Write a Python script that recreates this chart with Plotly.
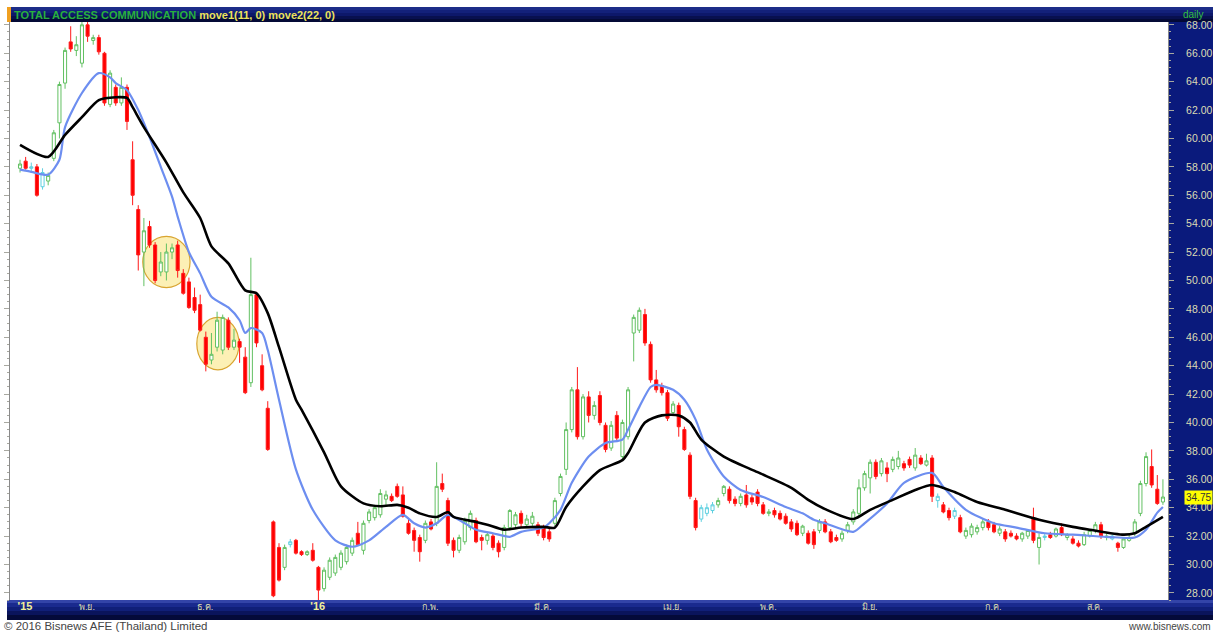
import pandas as pd
import plotly.graph_objects as go

# ---------------- data ----------------
open_ = [
    57.9, 58.4, 57.9, 58.0, 56.6, 57.0, 58.6, 61.1, 63.9, 66.8,
    66.2, 65.3, 68.0, 66.9, 67.1, 66.0, 62.4, 63.6, 62.5, 63.6,
    58.5, 55.0, 52.0, 53.8, 52.5, 50.6, 50.6, 52.0, 52.5, 50.5,
    49.9, 48.8, 48.3, 46.0, 44.4, 45.3, 45.1, 47.2, 45.3, 45.7,
    44.6, 42.8, 49.0, 44.0, 41.0, 33.0, 31.2, 29.8, 31.4, 31.7,
    30.9, 30.7, 31.0, 29.8, 28.3, 29.1, 29.4, 29.8, 30.2, 30.8,
    32.2, 31.0, 33.1, 33.3, 33.5, 34.6, 34.8, 35.5, 34.9, 32.9,
    32.4, 31.9, 31.7, 33.0, 32.9, 35.7, 34.5, 31.7, 31.0, 31.6,
    32.6, 33.1, 31.9, 31.7, 32.0, 31.5, 31.2, 32.6, 32.8, 33.6,
    32.8, 32.9, 32.8, 32.6, 32.3, 32.9, 35.0, 36.7, 39.5, 42.3,
    39.0, 41.8, 40.5, 41.9, 39.8, 38.2, 40.5, 37.6, 39.0, 46.3,
    46.5, 47.6, 45.5, 43.0, 42.6, 42.1, 40.7, 41.2, 39.5, 37.7,
    34.5, 33.2, 33.6, 33.8, 34.2, 35.0, 35.3, 34.6, 34.3, 34.9,
    34.7, 35.1, 34.2, 33.6, 33.8, 33.6, 33.4, 33.0, 32.9, 32.2,
    32.2, 32.3, 32.4, 33.0, 32.3, 31.9, 31.8, 32.4, 33.0, 33.6,
    35.4, 36.1, 37.2, 36.4, 36.8, 36.7, 36.9, 37.1, 37.4, 36.8,
    37.5, 37.0, 37.5, 34.5, 34.2, 33.8, 33.4, 33.3, 32.0, 32.1,
    32.3, 32.6, 33.0, 32.8, 32.2, 32.3, 32.2, 32.0, 31.8, 32.0,
    33.3, 31.2, 31.9, 32.1, 32.0, 32.6, 31.9, 31.8, 31.5, 31.4,
    32.0, 32.4, 32.8, 31.9, 32.0, 31.5, 31.2, 31.7, 32.2, 33.6,
    35.7, 36.9, 35.3, 34.4,
]
high = [
    58.5, 58.7, 58.3, 58.2, 57.9, 57.6, 60.6, 64.0, 66.4, 67.9,
    67.2, 68.2, 68.2, 67.3, 67.3, 66.1, 64.8, 63.8, 64.3, 63.8,
    59.8, 55.3, 54.4, 54.2, 52.7, 52.0, 52.6, 52.6, 52.8, 50.8,
    50.2, 49.5, 49.0, 46.4, 46.3, 47.8, 47.6, 47.4, 46.6, 45.9,
    45.3, 51.6, 49.2, 44.8, 41.5, 33.1, 31.5, 31.4, 31.8, 31.8,
    31.0, 31.0, 31.5, 29.9, 29.8, 30.5, 30.7, 31.0, 31.4, 31.9,
    33.0, 33.1, 33.9, 34.2, 35.3, 35.2, 35.0, 35.7, 35.5, 33.2,
    32.6, 32.1, 33.1, 33.2, 37.2, 36.4, 34.7, 31.9, 32.1, 33.3,
    33.8, 33.3, 32.1, 32.3, 32.2, 31.7, 32.8, 33.9, 33.7, 33.8,
    33.5, 33.7, 33.0, 32.8, 32.5, 34.7, 36.4, 40.0, 42.5, 43.9,
    42.0, 42.2, 41.5, 42.2, 40.0, 40.1, 40.8, 40.2, 42.5, 47.6,
    48.1, 48.0, 45.7, 43.7, 42.8, 42.3, 41.5, 41.4, 39.7, 37.9,
    34.7, 34.2, 34.3, 34.4, 34.7, 35.6, 35.5, 34.8, 35.0, 35.6,
    34.9, 35.3, 34.4, 33.9, 34.0, 33.8, 33.6, 33.2, 33.1, 32.8,
    32.4, 32.5, 33.2, 33.2, 32.5, 32.1, 32.4, 33.0, 33.9, 36.0,
    36.6, 37.4, 37.4, 37.5, 37.2, 37.6, 38.0, 37.3, 37.6, 38.2,
    37.7, 37.8, 37.7, 35.0, 34.4, 34.0, 34.0, 33.5, 32.6, 32.9,
    32.8, 33.2, 33.2, 33.0, 32.7, 32.5, 32.4, 32.2, 32.3, 32.5,
    34.0, 32.2, 32.2, 32.3, 32.6, 32.9, 32.2, 32.0, 31.7, 32.3,
    32.5, 33.0, 33.0, 32.2, 32.1, 31.6, 31.9, 32.1, 33.2, 35.9,
    37.9, 38.1, 36.3, 36.0,
]
low = [
    57.6, 57.8, 57.6, 55.9, 56.4, 56.7, 58.4, 60.0, 63.5, 66.1,
    65.8, 65.0, 66.8, 66.6, 65.9, 62.3, 62.2, 62.3, 62.3, 60.6,
    55.3, 50.7, 49.6, 52.3, 49.8, 50.3, 50.0, 51.5, 50.2, 49.0,
    48.0, 47.7, 46.4, 43.6, 44.1, 45.0, 44.8, 45.1, 45.1, 44.2,
    42.0, 42.5, 45.3, 42.2, 38.0, 27.7, 28.8, 29.6, 31.2, 30.7,
    30.6, 30.6, 30.2, 27.5, 28.1, 28.9, 29.2, 29.6, 30.0, 30.6,
    31.3, 30.7, 32.9, 33.1, 33.3, 34.2, 34.4, 34.7, 33.3, 32.1,
    30.9, 30.2, 31.5, 32.4, 32.7, 35.1, 31.3, 30.5, 30.8, 31.4,
    32.4, 31.5, 31.0, 31.4, 31.0, 30.5, 31.0, 32.4, 32.5, 32.6,
    32.6, 32.7, 32.0, 31.7, 31.6, 32.7, 34.8, 36.3, 39.3, 38.8,
    38.8, 40.0, 40.2, 39.8, 37.9, 38.0, 38.7, 37.4, 38.8, 44.3,
    46.3, 45.4, 42.8, 42.1, 41.9, 40.1, 40.5, 39.0, 38.0, 34.6,
    32.4, 33.0, 33.4, 33.6, 34.0, 34.8, 34.3, 34.1, 34.1, 34.0,
    34.2, 34.1, 33.5, 33.4, 33.3, 33.1, 32.8, 32.3, 32.0, 32.0,
    31.4, 31.1, 32.2, 32.2, 31.5, 31.6, 31.6, 32.2, 32.8, 33.4,
    35.2, 35.0, 36.0, 36.2, 35.8, 36.5, 36.7, 36.6, 36.8, 36.6,
    37.0, 36.9, 34.4, 34.0, 33.6, 33.1, 33.2, 32.2, 31.8, 31.9,
    32.1, 32.4, 32.4, 32.2, 32.0, 31.6, 31.9, 31.7, 31.6, 31.8,
    31.5, 30.0, 31.7, 31.8, 31.9, 32.0, 31.7, 31.4, 31.2, 31.3,
    31.9, 32.2, 31.8, 31.7, 31.7, 30.9, 31.1, 31.6, 32.0, 33.4,
    35.5, 35.4, 34.2, 34.2,
]
close = [
    58.2, 57.9, 58.0, 56.0, 57.6, 57.4, 60.4, 63.8, 66.2, 66.3,
    66.6, 68.0, 67.2, 67.1, 66.1, 62.5, 64.6, 62.5, 63.6, 61.2,
    56.0, 51.8, 53.5, 52.5, 50.0, 51.3, 52.0, 52.3, 50.7, 49.1,
    48.1, 47.9, 46.5, 44.1, 44.8, 47.2, 47.4, 45.3, 45.8, 45.3,
    42.1, 49.0, 45.6, 42.3, 38.1, 27.8, 28.9, 31.2, 31.6, 30.8,
    30.7, 30.9, 30.3, 28.2, 29.6, 30.3, 30.5, 30.8, 31.2, 31.7,
    31.4, 32.9, 33.7, 34.0, 35.0, 34.9, 34.5, 34.8, 33.4, 32.2,
    31.7, 30.9, 32.9, 32.5, 35.5, 35.3, 31.5, 31.0, 31.9, 33.1,
    33.6, 31.6, 31.7, 32.1, 31.2, 30.9, 32.6, 33.8, 33.5, 32.9,
    33.2, 33.4, 32.2, 31.9, 31.8, 34.5, 36.2, 39.5, 42.3, 39.0,
    41.8, 40.5, 41.2, 40.0, 38.1, 39.8, 38.9, 40.0, 42.3, 47.4,
    47.9, 45.6, 43.0, 42.3, 42.1, 40.3, 41.3, 39.7, 38.1, 34.8,
    32.6, 34.0, 34.0, 34.2, 34.5, 35.5, 34.5, 34.3, 34.8, 34.2,
    34.4, 34.3, 33.6, 33.7, 33.5, 33.2, 32.9, 32.5, 32.1, 32.7,
    31.5, 31.4, 33.0, 32.3, 31.6, 31.7, 32.2, 32.8, 33.7, 35.4,
    36.4, 37.2, 36.2, 37.3, 36.4, 37.4, 37.5, 36.8, 37.0, 37.7,
    37.1, 37.3, 34.8, 34.8, 33.7, 33.3, 33.8, 32.3, 32.4, 32.7,
    32.6, 33.0, 32.6, 32.3, 32.5, 31.8, 32.0, 31.8, 32.2, 32.4,
    31.7, 31.9, 32.0, 31.9, 32.5, 32.1, 32.1, 31.5, 31.3, 32.1,
    32.4, 32.8, 32.0, 32.0, 31.8, 31.2, 31.8, 31.9, 33.0, 35.7,
    37.6, 35.6, 34.3, 34.75,
]
# sessions the chart draws in cyan (near-doji bars)
cyan_sessions = [2, 4, 48, 121, 122, 123, 163, 166, 182, 194]

# moving averages as drawn on the chart (session number -> value)
ma11_bar = [0, 2, 5, 7, 8, 11, 14, 16, 17, 19, 21, 23, 25, 27, 28, 30, 32, 34, 37, 39,
            40, 41, 43, 44, 46, 49, 52, 56, 59, 62, 65, 68, 70, 72, 74, 76, 79, 81, 84, 87,
            89, 93, 94, 96, 98, 101, 104, 107, 108, 110, 112, 113, 116, 118, 120, 122, 125, 128, 132, 136,
            139, 141, 143, 148, 150, 154, 157, 162, 164, 168, 173, 177, 182, 187, 193, 198, 200, 202, 203]
ma11_val = [57.8, 57.65, 57.45, 58.5, 60.8, 63.2, 64.6, 64.3, 63.9, 63.4, 62.0, 60.1, 58.0, 55.9, 54.5, 52.0, 50.5, 48.85, 48.1, 47.2,
            46.3, 46.65, 46.3, 45.1, 41.6, 36.7, 33.85, 31.7, 31.25, 31.7, 32.65, 33.5, 32.9, 32.6, 32.9, 33.5, 32.9, 32.45, 32.2, 31.95,
            32.3, 32.6, 32.9, 33.85, 35.75, 37.6, 38.55, 38.8, 39.5, 41.1, 42.5, 42.65, 42.3, 41.6, 40.2, 38.1, 36.2, 35.25, 34.75, 34.05,
            33.6, 33.15, 32.9, 32.3, 32.9, 34.3, 35.75, 36.45, 35.45, 33.85, 32.9, 32.6, 32.2, 32.1, 31.95, 31.9, 32.45, 33.65, 34.05]
ma22_bar = [0, 5, 8, 11, 14, 17, 19, 20, 22, 26, 29, 32, 34, 37, 40, 42, 44, 46, 49, 50,
            54, 57, 61, 64, 67, 69, 71, 74, 76, 77, 81, 83, 86, 89, 93, 95, 97, 100, 103, 107,
            108, 111, 114, 117, 119, 121, 125, 131, 137, 140, 143, 148, 151, 155, 159, 162, 166, 170, 175, 181,
            187, 190, 196, 198, 200, 203]
ma22_val = [59.55, 58.7, 60.25, 61.5, 62.7, 62.9, 62.85, 62.2, 60.8, 58.3, 56.2, 54.4, 52.4, 51.2, 49.3, 49.1, 47.7, 45.3, 41.6, 40.9,
            37.9, 35.5, 34.3, 34.1, 34.2, 34.0, 33.6, 33.35, 33.7, 33.35, 33.0, 32.8, 32.45, 32.6, 32.65, 32.6, 34.05, 35.5, 36.65, 37.35,
            37.85, 40.0, 40.5, 40.5, 40.0, 38.8, 37.6, 36.5, 35.4, 34.55, 33.9, 33.2, 33.85, 34.55, 35.25, 35.6, 35.1, 34.4, 33.85, 33.15,
            32.65, 32.45, 32.1, 32.2, 32.65, 33.35]

# highlighted consolidation zones (session span, price span)
zone_sessions = [(21.8, 30.2), (31.4, 38.9)]
zone_prices = [(49.5, 53.1), (43.7, 47.4)]

first_session = "2015-10-15"
set_holidays = ["2015-10-23", "2015-12-07", "2015-12-10", "2015-12-31", "2016-01-01",
                "2016-02-22", "2016-04-06", "2016-04-13", "2016-04-14", "2016-04-15",
                "2016-05-02", "2016-05-05", "2016-05-06", "2016-05-20", "2016-07-18",
                "2016-07-19", "2016-07-20", "2016-08-12"]
month_names = {10: "'15", 11: "พ.ย.", 12: "ธ.ค.", 1: "'16", 2: "ก.พ.", 3: "มี.ค.",
               4: "เม.ย.", 5: "พ.ค.", 6: "มิ.ย.", 7: "ก.ค.", 8: "ส.ค."}
last_price = close[-1]

# ---------------- sessions / ticks ----------------
days = [d for d in pd.bdate_range(first_session, "2016-12-31")
        if d.strftime("%Y-%m-%d") not in set_holidays][:len(close)]
dates = [d.strftime("%Y-%m-%d") for d in days]

tickvals, ticktext = [], []
prev = None
for d, s in zip(days, dates):
    if d.month != prev:
        lab = month_names[d.month]
        if lab.startswith("'"):
            lab = "<b><span style='font-size:11px;color:#f2ef9a'>" + lab + "</span></b>"
        tickvals.append(s)
        ticktext.append(lab)
        prev = d.month

# ---------------- figure ----------------
W, H = 1215, 632
ML, MR, MT, MB = 10, 47, 22, 32
PW, PH = W - ML - MR, H - MT - MB


def px(x):
    return (x - ML) / PW


def py(y):
    return (H - MB - y) / PH


def pick(seq, keep):
    return [v for i, v in enumerate(seq) if (i in cyan_sessions) == keep]


fig = go.Figure()
fig.add_trace(go.Candlestick(
    x=pick(dates, False), open=pick(open_, False), high=pick(high, False),
    low=pick(low, False), close=pick(close, False),
    increasing=dict(line=dict(color="#62c062", width=1), fillcolor="#ffffff"),
    decreasing=dict(line=dict(color="#ff1a1a", width=1), fillcolor="#ff0000"),
    whiskerwidth=0, showlegend=False, hoverinfo="skip"))
fig.add_trace(go.Candlestick(
    x=pick(dates, True), open=pick(open_, True), high=pick(high, True),
    low=pick(low, True), close=pick(close, True),
    increasing=dict(line=dict(color="#5fd0e0", width=1), fillcolor="#ffffff"),
    decreasing=dict(line=dict(color="#5fd0e0", width=1), fillcolor="#ffffff"),
    whiskerwidth=0, showlegend=False, hoverinfo="skip"))
fig.add_trace(go.Scatter(
    x=[dates[i] for i in ma11_bar], y=ma11_val, mode="lines",
    line=dict(color="#6d8ef0", width=2.2, shape="spline", smoothing=0.7),
    showlegend=False, hoverinfo="skip"))
fig.add_trace(go.Scatter(
    x=[dates[i] for i in ma22_bar], y=ma22_val, mode="lines",
    line=dict(color="#000000", width=2.6, shape="spline", smoothing=0.7),
    showlegend=False, hoverinfo="skip"))

shapes = []
# highlight circles
for (s0, s1), (p0, p1) in zip(zone_sessions, zone_prices):
    shapes.append(dict(type="circle", xref="x", yref="y", x0=s0, x1=s1, y0=p0, y1=p1,
                       fillcolor="rgba(250,228,120,0.55)", line=dict(color="#d9a531", width=1.2),
                       layer="below"))


def band(x0, x1, y0, y1, color):
    shapes.append(dict(type="rect", xref="paper", yref="paper", x0=px(x0), x1=px(x1),
                       y0=py(y1), y1=py(y0), fillcolor=color, line=dict(width=0), layer="below"))


# header bar (gradient imitation)
for (a, b, c) in [(7, 10, "#1c2d88"), (10, 13, "#13217a"), (13, 16, "#0d186a"),
                  (16, 19, "#08104f"), (19, 22, "#040a36")]:
    band(7, 1213, a, b, c)
band(7, 11, 7, 22, "#f0a020")
# right price panel
band(1168, 1213, 22, 601, "#0a1a7c")
# bottom date bar (gradient imitation)
for (a, b, c) in [(600, 603, "#3344a8"), (603, 607, "#1a2a8e"), (607, 611, "#101f78"),
                  (611, 615, "#0a145c"), (615, 620, "#040a3a")]:
    band(7, 1213, a, b, c)

annotations = [
    dict(xref="paper", yref="paper", x=px(12), y=py(15), xanchor="left", yanchor="middle",
         showarrow=False, font=dict(family="Liberation Sans, Arial", size=11),
         text="<b><span style='color:#28b03c'>TOTAL ACCESS COMMUNICATION</span>"
              "<span style='color:#ece35a'> move1(11, 0) move2(22, 0)</span></b>"),
    dict(xref="paper", yref="paper", x=px(1193), y=py(15), xanchor="center", yanchor="middle",
         showarrow=False, font=dict(family="Liberation Sans, Arial", size=10, color="#34c040"),
         text="daily"),
    dict(xref="paper", yref="paper", x=px(2), y=py(626), xanchor="left", yanchor="middle",
         showarrow=False, font=dict(family="Liberation Sans, Arial", size=11.5, color="#444444"),
         text="© 2016 Bisnews AFE (Thailand) Limited"),
    dict(xref="paper", yref="paper", x=px(1213), y=py(626), xanchor="right", yanchor="middle",
         showarrow=False, font=dict(family="Liberation Sans, Arial", size=10, color="#444444"),
         text="www.bisnews.com"),
    dict(xref="paper", yref="y", x=px(1184), y=last_price, xanchor="left", yanchor="middle",
         showarrow=False, bgcolor="#ffff00", borderpad=1,
         font=dict(family="Liberation Sans, Arial", size=10, color="#333333"),
         text=f"{last_price:.2f}"),
]

fig.update_layout(
    width=W, height=H, margin=dict(l=ML, r=MR, t=MT, b=MB, pad=0, autoexpand=False),
    paper_bgcolor="#ffffff", plot_bgcolor="#ffffff", boxgap=0.22,
    shapes=shapes, annotations=annotations, showlegend=False,
    xaxis=dict(type="category", categoryorder="array", categoryarray=dates,
               range=[-1.78, len(close) - 0.1], automargin=False,
               rangeslider=dict(visible=False), showgrid=False, zeroline=False,
               tickvals=tickvals, ticktext=ticktext, ticks="", showline=False,
               ticklabelshift=5,
               tickfont=dict(family="Liberation Sans, Arial", size=9, color="#dcdcb0"),
               fixedrange=True),
    yaxis=dict(side="right", range=[27.5, 68.2], tick0=28, dtick=2, tickformat=".2f",
               automargin=False,
               showgrid=False, zeroline=False, ticks="outside", ticklen=5,
               tickcolor="#a8a8a0", showline=True, linecolor="#8a8a8a", mirror="ticks",
               minor=dict(ticks="outside", ticklen=2, dtick=0.5, tickcolor="#a8a8a0"),
               tickfont=dict(family="Liberation Sans, Arial", size=10.5, color="#dcdcb4"),
               ticklabelstandoff=10, fixedrange=True),
)

fig.write_html("out.html", config={"displayModeBar": False},
               post_script="document.body.style.margin='0';")
